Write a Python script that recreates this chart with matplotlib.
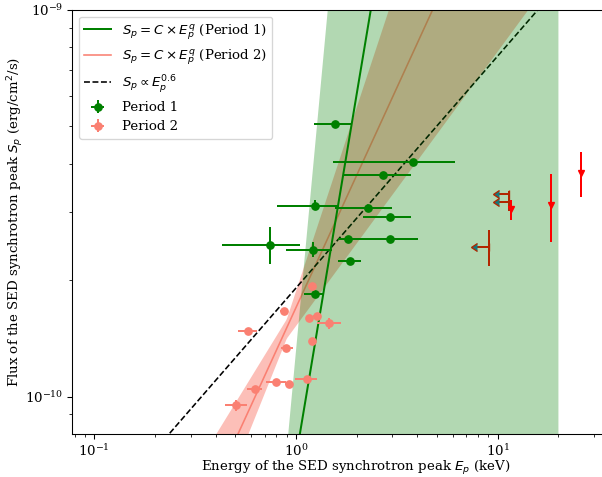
import numpy as np
import matplotlib
matplotlib.use("Agg")
import matplotlib.pyplot as plt

plt.rcParams['font.family'] = ['DejaVu Serif']
plt.rcParams['mathtext.fontset'] = 'dejavusans'

# ---------------- data ----------------
# Period 1 (green)
p1_E = [1.561, 3.790, 2.700, 1.246, 2.275, 2.914, 0.743, 1.214, 1.804, 2.908, 1.853, 1.242]
p1_E_lo = [1.228, 1.526, 1.729, 0.805, 1.561, 2.157, 0.4296, 0.892, 1.62, 1.895, 1.615, 1.096]
p1_E_hi = [1.889, 6.14, 3.72, 1.634, 2.99, 3.72, 1.047, 1.508, 2.38, 4.04, 2.094, 1.377]
p1_S = [5.06e-10, 4.05e-10, 3.74e-10, 3.11e-10, 3.08e-10, 2.92e-10, 2.47e-10, 2.40e-10, 2.56e-10, 2.56e-10, 2.24e-10, 1.84e-10]
p1_S_lo = [5.06e-10, 4.00e-10, 3.74e-10, 3.04e-10, 3.08e-10, 2.92e-10, 2.20e-10, 2.30e-10, 2.56e-10, 2.56e-10, 2.24e-10, 1.84e-10]
p1_S_hi = [5.06e-10, 4.10e-10, 3.74e-10, 3.23e-10, 3.08e-10, 2.92e-10, 2.74e-10, 2.51e-10, 2.56e-10, 2.56e-10, 2.24e-10, 1.84e-10]

# Period 2 (salmon)
p2_E = [1.196, 0.872, 1.164, 1.266, 1.458, 0.578, 1.205, 0.892, 1.138, 0.796, 0.920, 0.626, 0.506]
p2_E_lo = [1.15, 0.83, 1.12, 1.22, 1.266, 0.5176, 1.16, 0.8397, 0.992, 0.710, 0.88, 0.5717, 0.445]
p2_E_hi = [1.24, 0.91, 1.21, 1.32, 1.666, 0.6385, 1.25, 0.963, 1.275, 0.892, 0.96, 0.676, 0.569]
p2_S = [1.93e-10, 1.67e-10, 1.60e-10, 1.62e-10, 1.55e-10, 1.48e-10, 1.39e-10, 1.34e-10, 1.113e-10, 1.091e-10, 1.077e-10, 1.049e-10, 9.50e-11]
p2_S_lo = [1.90e-10, 1.645e-10, 1.58e-10, 1.60e-10, 1.50e-10, 1.46e-10, 1.37e-10, 1.32e-10, 1.10e-10, 1.075e-10, 1.065e-10, 1.035e-10, 9.2e-11]
p2_S_hi = [1.96e-10, 1.695e-10, 1.62e-10, 1.64e-10, 1.60e-10, 1.50e-10, 1.41e-10, 1.36e-10, 1.126e-10, 1.107e-10, 1.089e-10, 1.063e-10, 9.8e-11]

# Upper limits on E (arrows)
lim_E = [11.34, 11.34, 9.02]
lim_E_arrow = [10.1, 10.2, 7.92]
lim_S = [3.35e-10, 3.19e-10, 2.44e-10]
lim_S_lo = [3.30e-10, 3.02e-10, 2.18e-10]
lim_S_hi = [3.40e-10, 3.38e-10, 2.70e-10]

# Other points (red)
red_E = [11.64, 18.38, 25.79]
red_S = [3.05e-10, 3.13e-10, 3.78e-10]
red_S_lo = [2.86e-10, 2.51e-10, 3.28e-10]
red_S_hi = [3.23e-10, 3.77e-10, 4.29e-10]

# Fit parameters S = C * E^q
C1, q1 = 6.98e-11, 3.12
C2, q2 = 1.70e-10, 1.137
C1_band_up, q1_band_up = 1.315e-10, 5.6
C1_band_lo, q1_band_lo = 3.0e-11, 0.3
E1_band_max = 20.0
E2_piv = 0.9
C2_band_up, q2_up_left, q2_up_right = 10**-9.80, 0.85, 1.58
C2_band_lo, q2_lo_left, q2_lo_right = 10**-9.85, 1.30, 0.71
C06 = 1.91e-10
q06 = 0.6

# ---------------- figure ----------------
DPI = 96
fig = plt.figure(figsize=(602/DPI, 477/DPI), dpi=DPI)
ax = fig.add_axes([72.3/602, 1 - 433.5/477, 566.4/602, 423.5/477])
ax.set_xscale('log')
ax.set_yscale('log')

E = np.logspace(-1.3, 1.8, 600)

# Period 2 band
up2 = np.where(E < E2_piv, C2_band_up*(E/E2_piv)**q2_up_left, C2_band_up*(E/E2_piv)**q2_up_right)
lo2 = np.where(E < E2_piv, C2_band_lo*(E/E2_piv)**q2_lo_left, C2_band_lo*(E/E2_piv)**q2_lo_right)
ax.fill_between(E, lo2, up2, color='salmon', alpha=0.5, linewidth=0, zorder=1)

ax.plot(E, C1*E**q1, color='green', lw=1.5, zorder=2.5, label=r'$S_p = C \times E_p^q$ (Period 1)')
ax.plot(E, C2*E**q2, color='salmon', lw=1.2, zorder=1.2, label=r'$S_p = C \times E_p^q$ (Period 2)')
ax.plot(E, C06*E**q06, color='black', ls='--', lw=1.2, zorder=1.3, label=r'$S_p \propto E_p^{0.6}$')

# upper-limit arrows (below green band)
lim_E = np.array(lim_E); lim_S = np.array(lim_S)
ax.errorbar(lim_E, lim_S, yerr=[lim_S - np.array(lim_S_lo), np.array(lim_S_hi) - lim_S],
            fmt='none', ecolor='red', elinewidth=1.5, zorder=1.4)
ax.errorbar(lim_E, lim_S, xerr=lim_E - np.array(lim_E_arrow), xuplims=True,
            fmt='none', ecolor='red', elinewidth=1.5, capsize=3, zorder=1.4)

# Period 1 band
E1 = E[(E >= 0.5) & (E <= E1_band_max)]
E1 = np.append(E1, E1_band_max)
ax.fill_between(E1, C1_band_lo*E1**q1_band_lo, C1_band_up*E1**q1_band_up,
                color='green', alpha=0.3, linewidth=0, zorder=2)

# data points
p1_E = np.array(p1_E); p1_S = np.array(p1_S)
ax.errorbar(p1_E, p1_S,
            xerr=[p1_E - np.array(p1_E_lo), np.array(p1_E_hi) - p1_E],
            yerr=[p1_S - np.array(p1_S_lo), np.array(p1_S_hi) - p1_S],
            fmt='o', color='green', ms=5.5, elinewidth=1.5, zorder=3, label='Period 1')
p2_E = np.array(p2_E); p2_S = np.array(p2_S)
ax.errorbar(p2_E, p2_S,
            xerr=[p2_E - np.array(p2_E_lo), np.array(p2_E_hi) - p2_E],
            yerr=[p2_S - np.array(p2_S_lo), np.array(p2_S_hi) - p2_S],
            fmt='o', color='salmon', ms=5.5, elinewidth=1.5, zorder=3, label='Period 2')
red_S = np.array(red_S)
ax.errorbar(red_E, red_S, yerr=[red_S - np.array(red_S_lo), np.array(red_S_hi) - red_S],
            fmt='v', color='red', ms=4, elinewidth=1.5, zorder=3)

ax.set_xlim(0.0778, 50)
ax.set_ylim(8.03e-11, 1e-9)
ax.set_xlabel(r'Energy of the SED synchrotron peak $E_p$ (keV)', labelpad=0)
ax.set_ylabel(r'Flux of the SED synchrotron peak $S_p$ (erg/cm$^2$/s)', labelpad=-1)
ax.legend(loc='upper left', labelspacing=0.45)

fig.savefig('out.png', dpi=DPI)
